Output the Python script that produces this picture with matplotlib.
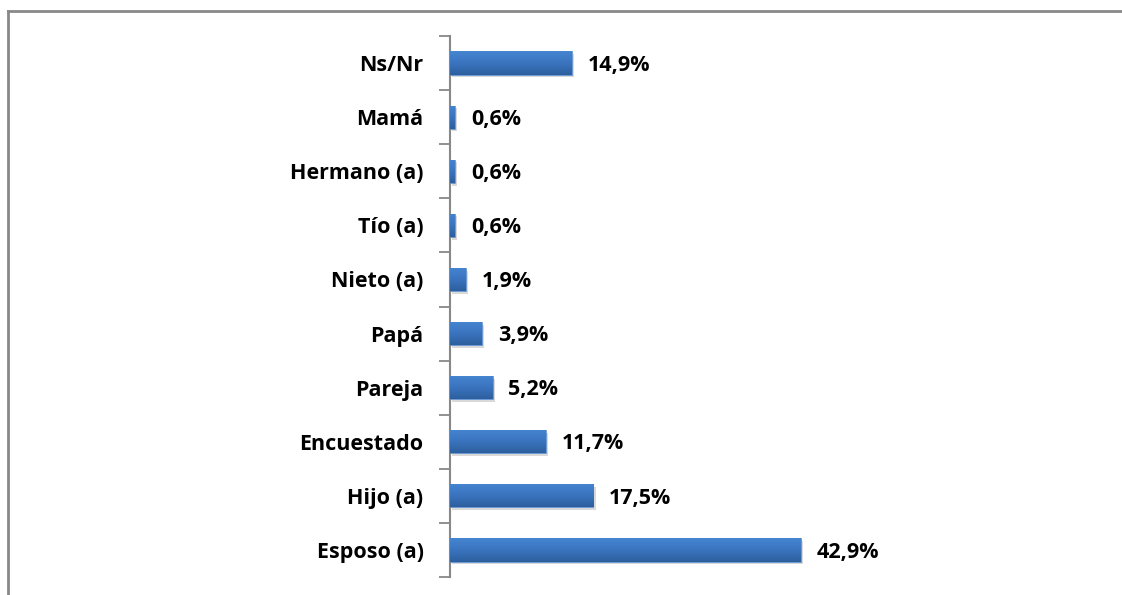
import matplotlib
matplotlib.use("Agg")
import matplotlib.pyplot as plt
from matplotlib.lines import Line2D
from matplotlib.colors import LinearSegmentedColormap
import numpy as np

categories = ['Esposo (a)', 'Hijo (a)', 'Encuestado', 'Pareja', 'Papá',
              'Nieto (a)', 'Tío (a)', 'Hermano (a)', 'Mamá', 'Ns/Nr']
values = [42.9, 17.5, 11.7, 5.2, 3.9, 1.9, 0.6, 0.6, 0.6, 14.9]
value_labels = ['42,9%', '17,5%', '11,7%', '5,2%', '3,9%',
                '1,9%', '0,6%', '0,6%', '0,6%', '14,9%']

plt.rcParams['font.family'] = ['Open Sans', 'DejaVu Sans']

W, H = 1122, 595
fig = plt.figure(figsize=(W / 100, H / 100), dpi=100)
ax = fig.add_axes([450 / W, 18 / H, 610 / W, 541 / H])

bh = 0.43
y = np.arange(len(categories))
# soft shadow under each bar
ax.barh(y - 0.05, values, height=bh, left=0.3, color='#d9d9d9', zorder=1)
bars = ax.barh(y, values, height=bh, color='#3a74bf', edgecolor='#6a9ad6',
               linewidth=0.6, zorder=2)

# vertical gradient inside each bar (light top, dark bottom)
cmap = LinearSegmentedColormap.from_list('blu', ['#2d5f9e', '#3a74bf', '#4685d0'])
grad = np.linspace(0, 1, 64).reshape(-1, 1)
for b, yi, v in zip(bars, y, values):
    im = ax.imshow(grad, extent=[0, v, yi - bh / 2, yi + bh / 2], origin='lower',
                   aspect='auto', cmap=cmap, zorder=3, interpolation='bilinear')
    im.set_clip_path(b)

for yi, v, lab in zip(y, values, value_labels):
    ax.text(v + 1.95, yi - 0.04, lab, va='center', ha='left', fontsize=15.5,
            fontweight='bold', color='black')

ax.set_xlim(0, 610 / 8.18)
ax.set_ylim(-0.5, len(categories) - 0.5)
ax.set_yticks(y)
ax.set_yticklabels(categories, fontsize=15.5, fontweight='bold')
ax.set_yticks(np.arange(-0.5, len(categories)), minor=True)
ax.tick_params(axis='y', which='major', length=0, pad=19)
ax.tick_params(axis='y', which='minor', length=8, width=1.3, color='#888888')
ax.set_xticks([])
for s in ['top', 'right', 'bottom']:
    ax.spines[s].set_visible(False)
ax.spines['left'].set_color('#888888')
ax.spines['left'].set_linewidth(1.5)

# outer chart border (top and left visible)
fig.add_artist(Line2D([8 / W, 1 / 1], [1 - 10.5 / H, 1 - 10.5 / H],
                      transform=fig.transFigure, color='#888888', lw=2))
fig.add_artist(Line2D([8 / W, 8 / W], [0, 1 - 10.5 / H],
                      transform=fig.transFigure, color='#888888', lw=2))

fig.savefig('out.png', dpi=100)
